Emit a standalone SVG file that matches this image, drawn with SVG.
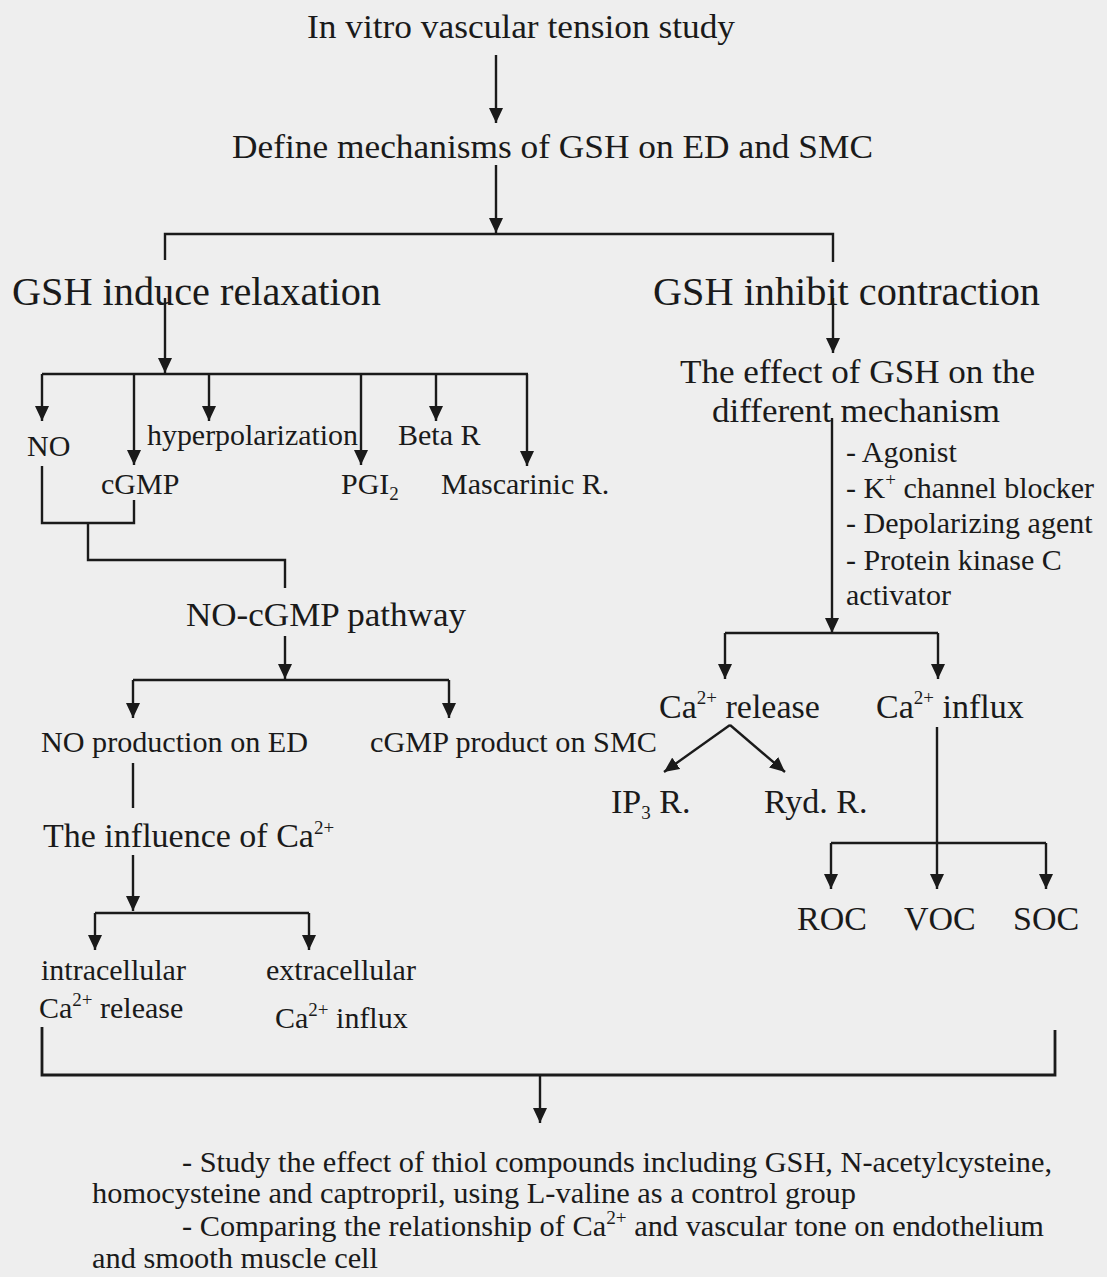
<svg xmlns="http://www.w3.org/2000/svg" width="1107" height="1277" viewBox="0 0 1107 1277">
<defs>
<marker id="ah" markerUnits="userSpaceOnUse" markerWidth="16" markerHeight="14" refX="15" refY="7" orient="auto">
<path d="M0,0 L15,7 L0,14 z" fill="#1a1a1a"/>
</marker>
<style>
text{font-family:"Liberation Serif","Times New Roman",serif;fill:#1a1a1a;}
.s30{font-size:30px;}
.s34{font-size:34px;}
.s40{font-size:40px;}
.sup{font-size:19px;}
line,polyline{stroke:#1a1a1a;stroke-width:2.4;fill:none;}
.a{marker-end:url(#ah);}
</style>
</defs>
<rect width="1107" height="1277" fill="#eeeeee"/>
<g id="connectors">
<line class="a" x1="496" y1="55" x2="496" y2="123"/>
<line class="a" x1="496" y1="165" x2="496" y2="233"/>
<polyline points="165,260 165,234 833,234 833,262"/>
<line class="a" x1="165" y1="298" x2="165" y2="373"/>
<line x1="42" y1="374" x2="528" y2="374"/>
<line class="a" x1="42" y1="374" x2="42" y2="421"/>
<line class="a" x1="134" y1="374" x2="134" y2="465"/>
<line class="a" x1="209" y1="374" x2="209" y2="421"/>
<line class="a" x1="361" y1="374" x2="361" y2="465"/>
<line class="a" x1="436" y1="374" x2="436" y2="421"/>
<line class="a" x1="527" y1="374" x2="527" y2="466"/>
<polyline points="42,466 42,523 134,523 134,500"/>
<polyline points="88,523 88,560 285,560 285,588"/>
<line class="a" x1="285" y1="636" x2="285" y2="679"/>
<line x1="133" y1="680" x2="449" y2="680"/>
<line class="a" x1="133" y1="680" x2="133" y2="718"/>
<line class="a" x1="449" y1="680" x2="449" y2="718"/>
<line x1="133" y1="763" x2="133" y2="808"/>
<line class="a" x1="133" y1="855" x2="133" y2="911"/>
<line x1="95" y1="913" x2="309" y2="913"/>
<line class="a" x1="95" y1="913" x2="95" y2="950"/>
<line class="a" x1="309" y1="913" x2="309" y2="950"/>
<line class="a" x1="833" y1="298" x2="833" y2="353"/>
<line class="a" x1="832" y1="418" x2="832" y2="633"/>
<line x1="725" y1="633" x2="938" y2="633"/>
<line class="a" x1="725" y1="633" x2="725" y2="679"/>
<line class="a" x1="938" y1="633" x2="938" y2="679"/>
<line class="a" x1="730" y1="725" x2="664" y2="772"/>
<line class="a" x1="730" y1="725" x2="785" y2="772"/>
<line class="a" x1="937" y1="727" x2="937" y2="889"/>
<line x1="831" y1="843" x2="1046" y2="843"/>
<line class="a" x1="831" y1="843" x2="831" y2="889"/>
<line class="a" x1="1046" y1="843" x2="1046" y2="889"/>
<polyline points="42,1027 42,1075 1055,1075 1055,1030" style="stroke-width:2.8"/>
<line class="a" x1="540" y1="1075" x2="540" y2="1123"/>
</g>
<g id="n-invitro"><text class="s34" x="307" y="38" textLength="428" lengthAdjust="spacingAndGlyphs">In vitro vascular tension study</text></g>
<g id="n-define"><text class="s34" x="232" y="158" textLength="641" lengthAdjust="spacingAndGlyphs">Define mechanisms of GSH on ED and SMC</text></g>
<g id="n-relax"><text class="s40" x="12" y="305" textLength="369" lengthAdjust="spacingAndGlyphs">GSH induce relaxation</text></g>
<g id="n-inhibit"><text class="s40" x="653" y="305" textLength="387" lengthAdjust="spacingAndGlyphs">GSH inhibit contraction</text></g>
<g id="n-no"><text class="s30" x="27" y="456">NO</text></g>
<g id="n-cgmp"><text class="s30" x="101" y="494">cGMP</text></g>
<g id="n-hyper"><text class="s30" x="147" y="445" textLength="211" lengthAdjust="spacingAndGlyphs">hyperpolarization</text></g>
<g id="n-beta"><text class="s30" x="398" y="445">Beta R</text></g>
<g id="n-pgi2"><text class="s30" x="341" y="494">PGI<tspan class="sup" dy="6">2</tspan></text></g>
<g id="n-masc"><text class="s30" x="441" y="494">Mascarinic R.</text></g>
<g id="n-nocgmp"><text class="s34" x="186" y="626" textLength="280" lengthAdjust="spacingAndGlyphs">NO-cGMP pathway</text></g>
<g id="n-noprod"><text class="s30" x="41" y="752" textLength="267" lengthAdjust="spacingAndGlyphs">NO production on ED</text></g>
<g id="n-cgmpprod"><text class="s30" x="370" y="752" textLength="287" lengthAdjust="spacingAndGlyphs">cGMP product on SMC</text></g>
<g id="n-influence"><text class="s34" x="43" y="847">The influence of Ca<tspan class="sup" dy="-13">2+</tspan></text></g>
<g id="n-intra"><text class="s30" x="41" y="980">intracellular</text><text class="s30" x="39" y="1018">Ca<tspan class="sup" dy="-12">2+</tspan><tspan dy="12"> release</tspan></text></g>
<g id="n-extra"><text class="s30" x="266" y="980">extracellular</text><text class="s30" x="275" y="1028">Ca<tspan class="sup" dy="-12">2+</tspan><tspan dy="12"> influx</tspan></text></g>
<g id="n-effect"><text class="s34" x="680" y="383" textLength="355" lengthAdjust="spacingAndGlyphs">The effect of GSH on the</text><text class="s34" x="712" y="422" textLength="288" lengthAdjust="spacingAndGlyphs">different mechanism</text></g>
<g id="n-list">
<text class="s30" x="846" y="462">- Agonist</text>
<text class="s30" x="846" y="498">- K<tspan class="sup" dy="-12">+</tspan><tspan dy="12"> channel blocker</tspan></text>
<text class="s30" x="846" y="533">- Depolarizing agent</text>
<text class="s30" x="846" y="570">- Protein kinase C</text>
<text class="s30" x="846" y="605">activator</text>
</g>
<g id="n-carelease"><text class="s34" x="659" y="718">Ca<tspan class="sup" dy="-14">2+</tspan><tspan dy="14"> release</tspan></text></g>
<g id="n-cainflux"><text class="s34" x="876" y="718">Ca<tspan class="sup" dy="-14">2+</tspan><tspan dy="14"> influx</tspan></text></g>
<g id="n-ip3"><text class="s34" x="611" y="813">IP<tspan class="sup" dy="6">3</tspan><tspan dy="-6"> R.</tspan></text></g>
<g id="n-ryd"><text class="s34" x="764" y="813">Ryd. R.</text></g>
<g id="n-roc"><text class="s34" x="797" y="930">ROC</text></g>
<g id="n-voc"><text class="s34" x="904" y="930">VOC</text></g>
<g id="n-soc"><text class="s34" x="1013" y="930">SOC</text></g>
<g id="n-study">
<text class="s30" x="182" y="1172" textLength="870" lengthAdjust="spacingAndGlyphs">- Study the effect of thiol compounds including GSH, N-acetylcysteine,</text>
<text class="s30" x="92" y="1203" textLength="764" lengthAdjust="spacingAndGlyphs">homocysteine and captropril, using L-valine as a control group</text>
<text class="s30" x="182" y="1236" textLength="862" lengthAdjust="spacingAndGlyphs">- Comparing the relationship of Ca<tspan class="sup" dy="-12">2+</tspan><tspan dy="12"> and vascular tone on endothelium</tspan></text>
<text class="s30" x="92" y="1268" textLength="286" lengthAdjust="spacingAndGlyphs">and smooth muscle cell</text>
</g>
</svg>
